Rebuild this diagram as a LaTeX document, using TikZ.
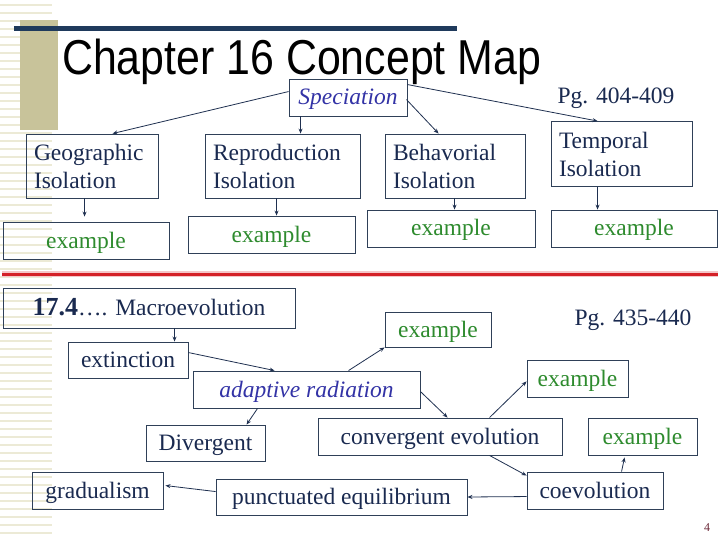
\documentclass[tikz,border=0pt]{standalone}
\usepackage{fontspec}
\setmainfont{Liberation Serif}
\newfontfamily\titlefont{Liberation Sans}
\usetikzlibrary{arrows.meta,calc}
\definecolor{navytext}{HTML}{1A2A50}
\definecolor{bordercol}{HTML}{2F4058}
\definecolor{arrowcol}{HTML}{1F3050}
\definecolor{greentext}{HTML}{2E8B2E}
\definecolor{bluetext}{HTML}{3333A6}
\definecolor{barblue}{HTML}{1F3A5C}
\definecolor{olivebar}{HTML}{C8C39A}
\definecolor{stripecol}{HTML}{ECEAD6}
\definecolor{redline}{HTML}{D42027}
\definecolor{redhalo}{HTML}{F4C6C8}
\definecolor{pagecol}{HTML}{6B2737}
\tikzset{
  boxx/.style={draw=bordercol, line width=0.9pt, inner xsep=8pt, inner ysep=0pt,
    font=\fontsize{23.5}{28}\selectfont, text=navytext},
  onel/.style={boxx, text height=16pt, text depth=1pt},
  exbox/.style={onel, text=greentext},
  arr/.style={draw=arrowcol, line width=0.8pt, -{Stealth[length=5pt,width=4pt]}},
  pgtext/.style={font=\fontsize{23.5}{28}\selectfont, text=navytext, inner sep=0pt}
}
\begin{document}
\begin{tikzpicture}[x=1pt,y=-1pt]
\useasboundingbox (0,0) rectangle (720,540);
\fill[white] (0,0) rectangle (720,540);
% left decoration
\foreach \y in {4,12,...,532} \fill[stripecol] (0,\y) rectangle (52,\y+2);
\fill[olivebar] (20,20) rectangle (58,130);
\fill[barblue] (14,26) rectangle (457,31);
% title
\node[anchor=base west, inner sep=0pt, font=\titlefont\fontsize{49}{50}\selectfont] (title) at (62,75) {\scalebox{0.875}[1]{Chapter 16 Concept Map}};
% top section
\node[onel, minimum width=118, minimum height=37, text=bluetext, font=\itshape\fontsize{23.5}{28}\selectfont] (spec) at (348,97.5) {Speciation};
\node[pgtext] (pg1) at (616,98) {Pg. 404-409};
\node[boxx, minimum width=132, minimum height=64, text width=116pt, align=left] (geo) at (92,166) {Geographic\\Isolation};
\node[boxx, minimum width=155, minimum height=64, text width=139pt, align=left] (rep) at (282.5,166) {Reproduction\\Isolation};
\node[boxx, minimum width=140, minimum height=64, text width=124pt, align=left] (beh) at (455,166) {Behavorial\\Isolation};
\node[boxx, minimum width=141, minimum height=65, text width=125pt, align=left] (tem) at (621.5,154) {Temporal\\Isolation};
\node[exbox, minimum width=166, minimum height=37] (ex1) at (86,240.5) {example};
\node[exbox, minimum width=167, minimum height=37] (ex2) at (271.5,234.5) {example};
\node[exbox, minimum width=168, minimum height=37] (ex3) at (451,228.5) {example};
\node[exbox, minimum width=166, minimum height=37] (ex4) at (634,228.5) {example};
% arrows top
\draw[arr] ($(spec.north west)+(0,13)$) -- ($(geo.north west)+(87,0)$);
\coordinate (a2) at ($(spec.south west)+(12,0)$);
\draw[arr] (a2) -- (a2 |- rep.north);
\draw[arr] ($(spec.north east)+(-1,21)$) -- ($(beh.north west)+(54,0)$);
\draw[arr] ($(spec.north east)+(0,6)$) -- ($(tem.north west)+(47,0)$);
\draw[arr] ($(geo.south west)+(59,0)$) -- ($(ex1.north west)+(82,-5)$);
\draw[arr] ($(rep.south west)+(72,0)$) -- ($(ex2.north west)+(89,0)$);
\draw[arr] ($(beh.south west)+(70,0)$) -- ($(ex3.north west)+(88,0)$);
\draw[arr] ($(tem.south west)+(47,0)$) -- ($(ex4.north west)+(47,0)$);
% red divider
\draw[redhalo, line width=6pt] (2,274) -- (718,274);
\draw[redline, line width=3pt] (2,274) -- (718,274);
% bottom section
\node[onel, minimum width=292, minimum height=40] (macro) at (149,308) {{\fontsize{26}{28}\selectfont\bfseries 17.4}…. Macroevolution};
\node[pgtext] (pg2) at (633,320) {Pg. 435-440};
\node[exbox, minimum width=106, minimum height=35] (ex5) at (438,329.5) {example};
\node[onel, minimum width=120, minimum height=36] (ext) at (128,360) {extinction};
\node[onel, minimum width=227, minimum height=37, text=bluetext, font=\itshape\fontsize{23.5}{28}\selectfont] (adapt) at (306.5,389.5) {adaptive radiation};
\node[exbox, minimum width=101, minimum height=37] (ex6) at (577.5,378.5) {example};
\node[onel, minimum width=119, minimum height=36] (div) at (205.5,443) {Divergent};
\node[onel, minimum width=244, minimum height=37] (conv) at (440,436.5) {convergent evolution};
\node[exbox, minimum width=109, minimum height=37] (ex7) at (642.5,436.5) {example};
\node[onel, minimum width=131, minimum height=37] (grad) at (97.5,490.5) {gradualism};
\node[onel, minimum width=251, minimum height=36] (punc) at (341.5,497) {punctuated equilibrium};
\node[onel, minimum width=136, minimum height=37] (coev) at (595,490.5) {coevolution};
% arrows bottom
\draw[arr] ($(macro.south west)+(172,0)$) -- ($(ext.north west)+(107,0)$);
\draw[arr] ($(ext.north east)+(0,11)$) -- ($(adapt.north west)+(82,0)$);
\draw[arr] ($(adapt.north west)+(156,0)$) -- (ex5.south west);
\draw[arr] ($(adapt.south west)+(65,0)$) -- ($(div.north west)+(101,0)$);
\draw[arr] ($(adapt.north east)+(0,21)$) -- ($(conv.north west)+(130,0)$);
\draw[arr] ($(conv.north west)+(172,0)$) -- ($(ex6.south west)+(0,-16)$);
\draw[arr] ($(conv.south west)+(172,0)$) -- ($(coev.north west)+(0,4)$);
\draw[arr] ($(coev.north west)+(95,0)$) -- ($(ex7.south west)+(37,2)$);
\draw[arr] ($(coev.north west)+(0,25)$) -- (punc.east);
\draw[arr] ($(punc.north west)+(0,13)$) -- ($(grad.north east)+(2,14)$);
% page number
\node[inner sep=0pt, text=pagecol, font=\fontsize{12}{14}\selectfont] (pnum) at (707,528) {4};
\end{tikzpicture}
\end{document}
